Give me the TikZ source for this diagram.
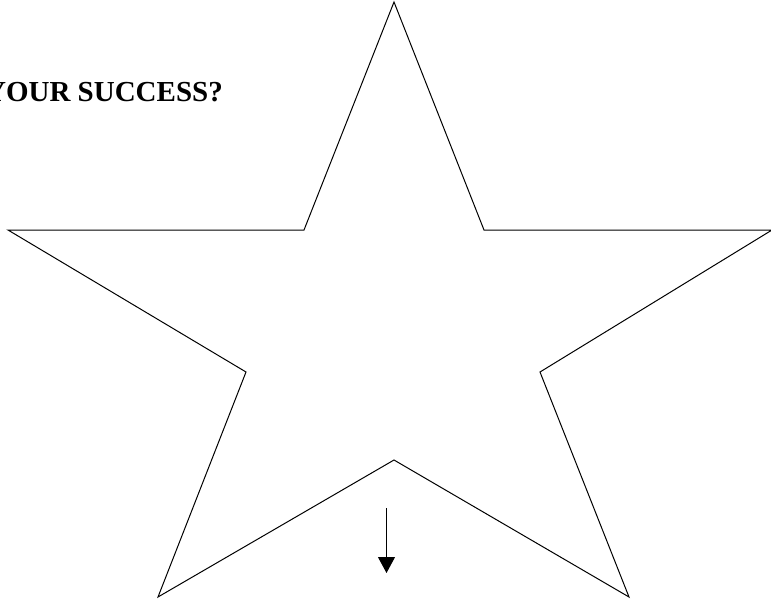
\documentclass[tikz,border=0pt]{standalone}
\usepackage{fontspec}
\setmainfont{Liberation Serif}
\usetikzlibrary{arrows.meta}
\begin{document}
\begin{tikzpicture}[x=1pt,y=-1pt,
  starline/.style={draw=black,line width=1pt,line join=miter},
  arrowline/.style={draw=black,line width=1pt,-{Triangle[length=16pt,width=17pt]}},
  titletext/.style={font=\bfseries\fontsize{29}{34}\selectfont,inner sep=0pt}]
\useasboundingbox (0,0) rectangle (771,605);
\clip (0,0) rectangle (771,605);
\coordinate (p1) at (394,2);
\coordinate (p2) at (304,230);
\coordinate (p3) at (8,230);
\coordinate (p4) at (246,372);
\coordinate (p5) at (158,597);
\coordinate (p6) at (394,460);
\coordinate (p7) at (629,597);
\coordinate (p8) at (540,372);
\coordinate (p9) at (772,230);
\coordinate (p10) at (484,230);
\path[starline] (p1) -- (p2) -- (p3) -- (p4) -- (p5) -- (p6) -- (p7) -- (p8) -- (p9) -- (p10) -- cycle;
\coordinate (a1) at (386.5,508);
\coordinate (a2) at (386.5,573);
\draw[arrowline] (a1) -- (a2);
\node[titletext,anchor=base east] (title) at (223,101.5) {YOUR SUCCESS?};
\end{tikzpicture}
\end{document}
